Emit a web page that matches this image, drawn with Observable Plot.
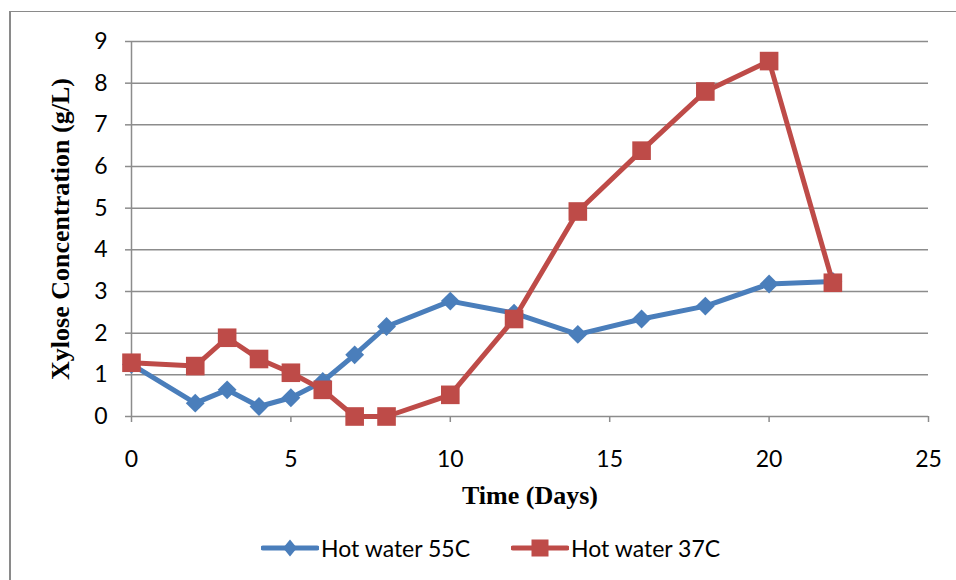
<!DOCTYPE html>
<html>
<head>
<meta charset="utf-8">
<script src="https://cdn.jsdelivr.net/npm/d3@7"></script>
<script src="https://cdn.jsdelivr.net/npm/@observablehq/plot@0.6"></script>
<style>
  html, body { margin: 0; padding: 0; background: #fff; }
  #wrap { position: relative; width: 956px; height: 580px; overflow: hidden; background: #fff; }
  #frame { position: absolute; left: 9px; top: 11px; width: 1200px; height: 1200px;
           border-left: 2px solid #8a8a8a; border-top: 1px solid #8a8a8a; }
  #chart { position: absolute; left: 0; top: 0; }
  #legend { position: absolute; left: 0; top: 528px; width: 956px; height: 40px;
            display: flex; align-items: center; font-family: Lato, sans-serif; font-size: 23px; color: #000; }
  .item { display: flex; align-items: center; }
  .item svg { display: block; }
</style>
</head>
<body>
<div id="wrap">
  <div id="frame"></div>
  <div id="chart"></div>
  <div id="legend"></div>
</div>
<script>
const days = [0, 2, 3, 4, 5, 6, 7, 8, 10, 12, 14, 16, 18, 20, 22];
const hotWater55 = [1.25, 0.32, 0.64, 0.24, 0.45, 0.84, 1.48, 2.16, 2.77, 2.48, 1.97, 2.34, 2.65, 3.18, 3.24];
const hotWater37 = [1.29, 1.21, 1.89, 1.38, 1.05, 0.64, 0.0, 0.0, 0.52, 2.34, 4.92, 6.38, 7.8, 8.53, 3.21];
const seriesNames = ["Hot water 55C", "Hot water 37C"];
const seriesColors = ["#4A7EBB", "#BE4B48"];
const xTicks = [0, 5, 10, 15, 20, 25];
const yTicks = [0, 1, 2, 3, 4, 5, 6, 7, 8, 9];
const xTitle = "Time (Days)";
const yTitle = "Xylose Concentration (g/L)";

const d55 = days.map((d, i) => ({day: d, value: hotWater55[i]}));
const d37 = days.map((d, i) => ({day: d, value: hotWater37[i]}));

const grid = "#8c8c8c";
const titleStyle = {fontFamily: "'Liberation Serif', 'Times New Roman', serif", fontWeight: "bold", fontSize: 26, fill: "#000"};

const chart = Plot.plot({
  width: 956,
  height: 525,
  marginLeft: 131,
  marginRight: 28,
  marginTop: 41,
  marginBottom: 109,
  style: {fontFamily: "Lato, sans-serif", fontSize: "23px", color: "#000", background: "transparent", overflow: "visible"},
  x: {domain: [0, 25]},
  y: {domain: [0, 9]},
  marks: [
    Plot.ruleY(yTicks, {stroke: grid, strokeWidth: 1.5}),
    Plot.ruleX([0], {stroke: grid, strokeWidth: 1.5}),
    Plot.axisY({ticks: yTicks, tickSize: 6, tickPadding: 18, stroke: grid, strokeWidth: 1.5, label: null, fill: "#000"}),
    Plot.axisX({ticks: xTicks, tickSize: 6, tickPadding: 28, stroke: grid, strokeWidth: 1.5, label: null, fill: "#000"}),
    Plot.text([xTitle], {frameAnchor: "bottom", dy: 79, text: d => d, textAnchor: "middle", lineAnchor: "middle", ...titleStyle}),
    Plot.text([yTitle], {frameAnchor: "left", dx: -71, rotate: -90, text: d => d, textAnchor: "middle", lineAnchor: "middle", ...titleStyle}),
    Plot.line(d55, {x: "day", y: "value", stroke: seriesColors[0], strokeWidth: 5, strokeLinejoin: "round", strokeLinecap: "round"}),
    Plot.dot(d55, {x: "day", y: "value", symbol: "diamond2", r: 8.5, fill: seriesColors[0], stroke: "none"}),
    Plot.line(d37, {x: "day", y: "value", stroke: seriesColors[1], strokeWidth: 5, strokeLinejoin: "round", strokeLinecap: "round"}),
    Plot.dot(d37, {x: "day", y: "value", symbol: "square", r: 10.5, fill: seriesColors[1], stroke: "none"})
  ]
});
document.getElementById("chart").appendChild(chart);

// Legend
const legend = d3.select("#legend");
const inner = legend.append("div").style("display", "flex").style("align-items", "center").style("margin-left", "261px");
seriesNames.forEach((name, i) => {
  const item = inner.append("div").attr("class", "item").style("margin-right", i === 0 ? "41px" : "0px");
  const sw = item.append("svg").attr("width", 58).attr("height", 22);
  sw.append("line").attr("x1", 2).attr("x2", 56).attr("y1", 11).attr("y2", 11)
    .attr("stroke", seriesColors[i]).attr("stroke-width", 5).attr("stroke-linecap", "round");
  if (i === 0) {
    sw.append("path").attr("d", "M29,2.5L36,11L29,19.5L22,11Z").attr("fill", seriesColors[i]);
  } else {
    sw.append("rect").attr("x", 20.5).attr("y", 2.5).attr("width", 17).attr("height", 17).attr("fill", seriesColors[i]);
  }
  item.append("span").text(name).style("margin-left", "2px");
});
</script>
</body>
</html>
